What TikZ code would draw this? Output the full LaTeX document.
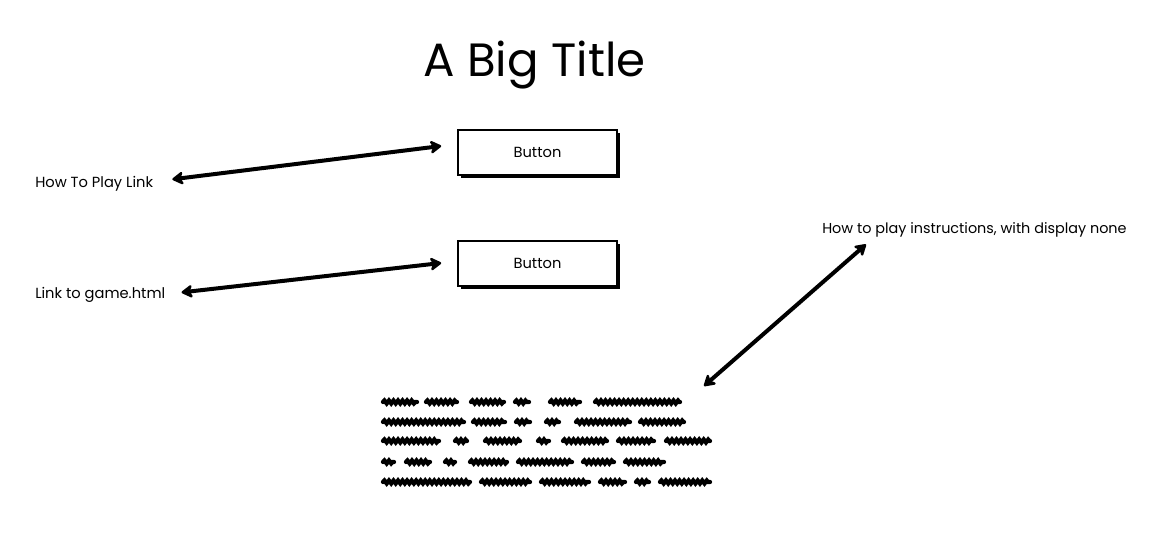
\documentclass[tikz,border=0pt]{standalone}
\usepackage{fontspec}
\setmainfont{Poppins}
\usetikzlibrary{arrows.meta,shadows,decorations.pathmorphing,positioning}

\begin{document}
\begin{tikzpicture}[x=0.75pt, y=-0.75pt,
  btn/.style={draw, fill=white, line width=1.4pt, minimum width=119pt, minimum height=34pt, font=\fontsize{11}{13}\selectfont,
    drop shadow={shadow xshift=2.2pt, shadow yshift=-2.2pt, opacity=1, fill=black}},
  lbl/.style={inner sep=0pt, anchor=base west, font=\fontsize{11}{13}\selectfont},
  link/.style={line width=3pt, {Stealth[round,length=10pt,width=12pt,inset=3pt]}-{Stealth[round,length=10pt,width=12pt,inset=3pt]}},
  scrib/.style={line width=3.2pt, line cap=round, decorate, decoration={snake, amplitude=1.1pt, segment length=3.4pt}}]
\useasboundingbox (0,0) rectangle (1155,556);
\node (title) [inner sep=0pt, anchor=base, font=\fontsize{35}{40}\selectfont] at (534.5,77) {A Big Title};
    \node (howbtn) [btn] at (537.5,152.5) {Button};
    \node (gamebtn) [btn] at (537.5,263.5) {Button};
  \node (howlink) [lbl] at (35,187) {How To Play Link};
  \node (gamelink) [lbl] at (35,298) {Link to game.html};
    \node (rules) [lbl, font=\fontsize{10.8}{13}\selectfont] at (822,233) {How to play instructions, with display none};
    \coordinate (scribend) at (704,386);
   \draw[link] ([shift={(19,-4)}]howlink.east) -- ([shift={(-16,-6.5)}]howbtn.west);
   \draw[link] ([shift={(16,-2)}]gamelink.east) -- ([shift={(-16,-0.5)}]gamebtn.west);
   \draw[link] (scribend) -- ([shift={(44,15)}]rules.west);

  \foreach \y/\words in {402/{380/420,423/460,468/507,512/532,547/583,592/683},
      422/{380/467,470/508,513/533,543/562,573/633,637/687},
      441/{380/442,452/470,482/523,535/552,560/610,615/657,663/713},
      462/{380/397,403/433,442/458,467/510,515/575,580/617,622/667},
      482/{380/473,478/533,538/592,597/628,633/652,657/713}}
    \foreach \a/\b in \words
      \draw[scrib] ({\a+3},\y) -- ({\b-3},\y);
\end{tikzpicture}
\end{document}
